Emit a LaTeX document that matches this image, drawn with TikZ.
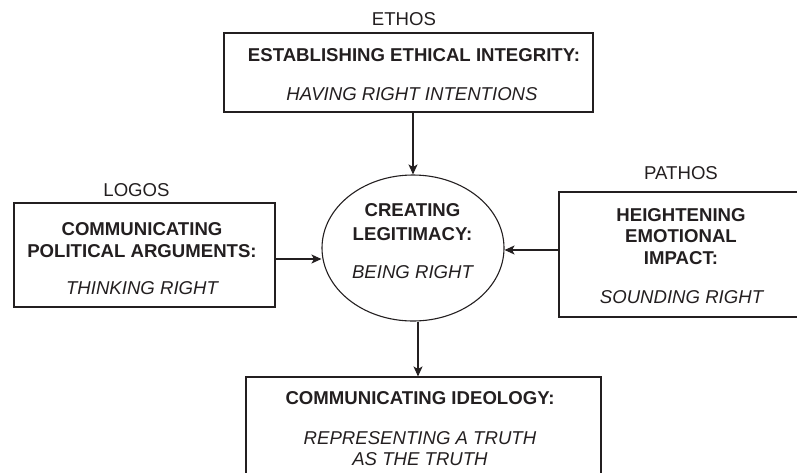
\documentclass[tikz,border=0pt]{standalone}
\usepackage{fontspec}
\setmainfont{Liberation Sans}
\usetikzlibrary{arrows.meta,shapes.geometric}
\definecolor{ink}{HTML}{231F20}
\tikzset{
  boxx/.style={draw=ink,line width=1.1pt,rectangle,inner sep=0pt},
  ell/.style={draw=ink,line width=1.1pt,ellipse,inner sep=0pt,minimum width=182pt,minimum height=146pt},
  bt/.style={anchor=base,inner sep=0pt,text=ink,font=\fontsize{18.6}{21}\selectfont\bfseries},
  itx/.style={anchor=base,inner sep=0pt,text=ink,font=\fontsize{18.6}{21}\selectfont\itshape},
  lbl/.style={anchor=base,inner sep=0pt,text=ink,font=\fontsize{18.6}{21}\selectfont},
  arr/.style={draw=ink,line width=1.1pt,-{Stealth[length=10pt,width=9pt,inset=2.5pt]}}
}
\begin{document}
\begin{tikzpicture}[x=1pt,y=-1pt]
\useasboundingbox (0,0) rectangle (797,472);
% boxes
\node[boxx,minimum width=369pt,minimum height=79pt] (ethosbox) at (408.5,72.5) {};
\node[boxx,minimum width=261pt,minimum height=104pt] (logosbox) at (144.5,255) {};
\node[boxx,minimum width=244pt,minimum height=125pt] (pathosbox) at (681,254.5) {};
\node[boxx,minimum width=355pt,minimum height=130pt] (idbox) at (423.5,442) {};
\node[ell] (core) at (413,248) {};
% labels
\node[lbl] (ethos) at (404,25) {ETHOS};
\node[lbl] (logos) at (136.5,196.5) {LOGOS};
\node[lbl] (pathos) at (681,179.5) {PATHOS};
% top box text
\node[bt] (t1) at (414,61) {ESTABLISHING ETHICAL INTEGRITY:};
\node[itx] (t2) at (412,100.5) {HAVING RIGHT INTENTIONS};
% left box text
\node[bt] (l1) at (142,235.5) {COMMUNICATING};
\node[bt] (l2) at (142,257) {POLITICAL ARGUMENTS:};
\node[itx] (l3) at (142,294) {THINKING RIGHT};
% right box text
\node[bt] (r1) at (681,221.5) {HEIGHTENING};
\node[bt] (r2) at (681,242.5) {EMOTIONAL};
\node[bt] (r3) at (681,264) {IMPACT:};
\node[itx] (r4) at (681.5,303) {SOUNDING RIGHT};
% ellipse text
\node[bt] (c1) at (412.5,216.5) {CREATING};
\node[bt] (c2) at (412.5,240) {LEGITIMACY:};
\node[itx] (c3) at (412.5,278) {BEING RIGHT};
% bottom box text
\node[bt] (b1) at (420,404) {COMMUNICATING IDEOLOGY:};
\node[itx] (b2) at (420,444) {REPRESENTING A TRUTH};
\node[itx] (b3) at (420,465) {AS THE TRUTH};
% connectors
\draw[arr] (core |- ethosbox.south) -- (core.north);
\draw[arr] ([yshift=-4pt]logosbox.east) -- ([yshift=-4pt]logosbox.east -| core.west);
\draw[arr] ([yshift=4.5pt]pathosbox.west) -- ([yshift=4.5pt]pathosbox.west -| core.east);
\draw[arr] ([xshift=5pt]core.south) -- ([xshift=5pt]core.south |- idbox.north);
\end{tikzpicture}
\end{document}
